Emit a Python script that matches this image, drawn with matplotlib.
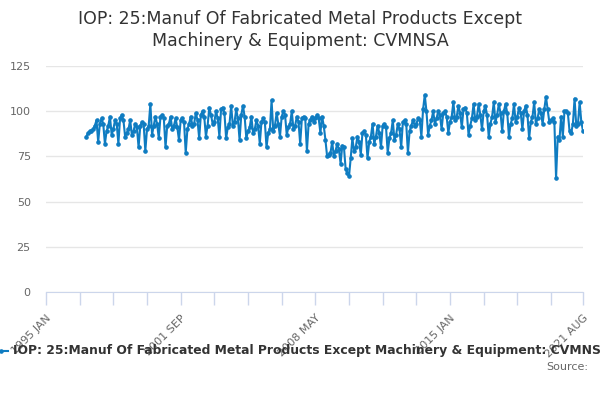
import numpy as np
import matplotlib
matplotlib.use("Agg")
import matplotlib.pyplot as plt

# monthly index values, Jan 1997 .. Aug 2021
y1997 = [86, 88, 89, 89, 90, 92, 95, 83, 93, 96, 93, 82]
y1998 = [89, 92, 97, 87, 90, 95, 93, 82, 96, 98, 95, 86]
y1999 = [88, 90, 95, 87, 89, 93, 91, 80, 92, 94, 93, 78]
y2000 = [90, 92, 104, 87, 92, 97, 93, 85, 97, 98, 96, 80]
y2001 = [92, 93, 97, 90, 92, 96, 91, 84, 95, 96, 94, 77]
y2002 = [90, 93, 97, 92, 93, 99, 95, 85, 98, 100, 97, 86]
y2003 = [92, 102, 98, 93, 94, 100, 96, 86, 101, 102, 99, 85]
y2004 = [91, 93, 103, 92, 94, 101, 96, 84, 98, 103, 97, 85]
y2005 = [89, 91, 97, 88, 90, 95, 92, 82, 94, 96, 94, 80]
y2006 = [88, 90, 106, 89, 92, 99, 93, 86, 97, 100, 98, 87]
y2007 = [91, 93, 100, 90, 92, 97, 94, 82, 96, 97, 96, 78]
y2008 = [93, 95, 97, 94, 96, 98, 96, 88, 97, 92, 84, 75]
y2009 = [76, 77, 83, 75, 78, 82, 79, 71, 81, 80, 68, 66]
y2010 = [64, 74, 85, 78, 80, 86, 83, 76, 88, 89, 87, 74]
y2011 = [83, 86, 93, 82, 86, 92, 88, 80, 92, 93, 91, 77]
y2012 = [85, 88, 95, 84, 87, 93, 90, 80, 94, 95, 93, 77]
y2013 = [89, 92, 95, 92, 93, 96, 95, 86, 101, 109, 100, 87]
y2014 = [92, 95, 100, 93, 96, 100, 98, 90, 99, 100, 97, 88]
y2015 = [94, 97, 105, 95, 97, 103, 99, 91, 101, 102, 99, 87]
y2016 = [92, 96, 104, 95, 97, 104, 98, 90, 100, 103, 98, 86]
y2017 = [93, 97, 105, 94, 98, 104, 99, 89, 100, 104, 99, 86]
y2018 = [93, 96, 104, 94, 97, 102, 99, 90, 100, 103, 98, 85]
y2019 = [94, 97, 105, 93, 96, 101, 99, 93, 101, 108, 101, 94]
y2020 = [95, 96, 94, 63, 86, 84, 97, 86, 100, 100, 99, 89]
y2021 = [88, 93, 107, 92, 93, 105, 94, 89]

values = (y1997 + y1998 + y1999 + y2000 + y2001 + y2002 + y2003 + y2004
          + y2005 + y2006 + y2007 + y2008 + y2009 + y2010 + y2011 + y2012
          + y2013 + y2014 + y2015 + y2016 + y2017 + y2018 + y2019 + y2020
          + y2021)

start_month = 24  # months after Jan 1995
tick_months = [0, 80, 160, 240, 319]
tick_labels = ["1995 JAN", "2001 SEP", "2008 MAY", "2015 JAN", "2021 AUG"]
minor_months = [20, 40, 60, 100, 120, 140, 180, 200, 220, 260, 280, 300]
y_ticks = [0, 25, 50, 75, 100, 125]

title = "IOP: 25:Manuf Of Fabricated Metal Products Except\nMachinery & Equipment: CVMNSA"
series_name = "IOP: 25:Manuf Of Fabricated Metal Products Except Machinery & Equipment: CVMNSA"

color = "#0f7cc1"
months = np.arange(start_month, start_month + len(values))

fig = plt.figure(figsize=(6, 4), dpi=100)
ax = fig.add_axes([46 / 600, 1 - 292 / 400, (583 - 46) / 600, (292 - 66) / 400])

ax.plot(months, values, color=color, lw=1.5, marker="o", ms=2.3, zorder=3)

ax.set_xlim(0, 319)
ax.set_ylim(0, 125)
ax.set_yticks(y_ticks)
ax.set_xticks(tick_months)
ax.set_xticks(minor_months, minor=True)
ax.set_xticklabels(tick_labels, rotation=45, ha="right", va="top",
                   rotation_mode="anchor")

ax.grid(axis="y", color="#e6e6e6", lw=1)
ax.set_axisbelow(True)
for s in ["top", "right", "left"]:
    ax.spines[s].set_visible(False)
ax.spines["bottom"].set_color("#ccd6eb")
ax.tick_params(axis="x", which="both", color="#ccd6eb", length=9, width=1,
               labelsize=8, labelcolor="#666666", pad=6)
ax.tick_params(axis="y", length=0, labelsize=8, labelcolor="#666666", pad=11)

fig.text(0.5, 0.975, title, ha="center", va="top", fontsize=12.5,
         color="#333333", linespacing=1.3)

# legend row (runs off the right edge like the original)
fig.lines.append(plt.Line2D([-0.01, 0.013], [0.123, 0.123], transform=fig.transFigure,
                            color=color, lw=1.5))
fig.lines.append(plt.Line2D([0.002], [0.123], transform=fig.transFigure,
                            color=color, marker="o", ms=2.3))
fig.text(0.022, 0.123, series_name, ha="left", va="center", fontsize=8.9,
         fontweight="bold", color="#333333")
fig.text(0.98, 0.082, "Source:", ha="right", va="center", fontsize=8, color="#666666")

fig.savefig("out.png", dpi=100)
